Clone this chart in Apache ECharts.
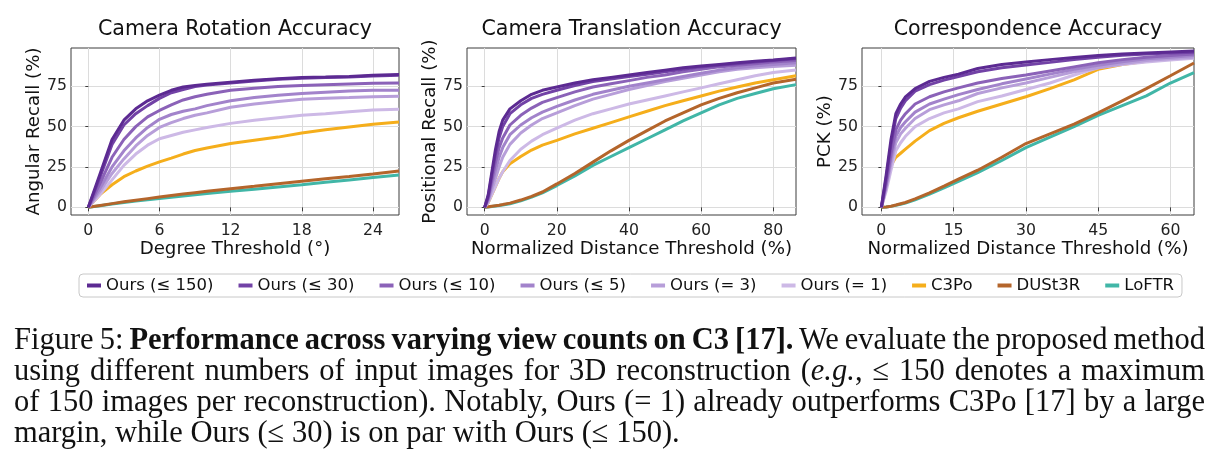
<!DOCTYPE html>
<html><head><meta charset="utf-8">
<script src="https://cdn.jsdelivr.net/npm/echarts@6/dist/echarts.min.js"></script>
<style>
html,body{margin:0;padding:0;background:#fff;}
#wrap{position:relative;width:1219px;height:471px;overflow:hidden;background:#fff;}
#chart{position:absolute;left:0;top:0;width:1219px;height:471px;}
#caption{position:absolute;left:14px;top:324px;width:1191px;font-family:'Liberation Serif','Times New Roman',serif;font-size:30.5px;line-height:31px;color:#111;}
#caption .line{white-space:nowrap;}
</style>
</head><body>
<div id="wrap">
<div id="chart"></div>
<div id="caption">
<div class="line j"><span>Figure 5: <b>Performance across varying view counts on C3 [17].</b> We evaluate the proposed method</span></div>
<div class="line j"><span>using different numbers of input images for 3D reconstruction (<i>e.g.</i>, ≤ 150 denotes a maximum</span></div>
<div class="line j"><span>of 150 images per reconstruction). Notably, Ours (= 1) already outperforms C3Po [17] by a large</span></div>
<div class="line"><span>margin, while Ours (≤ 30) is on par with Ours (≤ 150).</span></div>
</div>
</div>
<script>
// ---------- data ----------
const methodNames = ['Ours (≤ 150)', 'Ours (≤ 30)', 'Ours (≤ 10)', 'Ours (≤ 5)', 'Ours (= 3)', 'Ours (= 1)', 'C3Po', 'DUSt3R', 'LoFTR'];
const panelTitles = ['Camera Rotation Accuracy', 'Camera Translation Accuracy', 'Correspondence Accuracy'];
const xAxisNames = ['Degree Threshold (°)', 'Normalized Distance Threshold (%)', 'Normalized Distance Threshold (%)'];
const yAxisNames = ['Angular Recall (%)', 'Positional Recall (%)', 'PCK (%)'];
const rotXTicks = [0, 6, 12, 18, 24];
const transXTicks = [0, 20, 40, 60, 80];
const corrXTicks = [0, 15, 30, 45, 60];
const yTicks = [0, 25, 50, 75];

// Camera rotation accuracy
const rotX = [0,1,2,3,4,5,6,7,8,9,10,12,14,16,18,20,22,24,26.2];
const rot_ours150 = [0,21,42,54,61,66,69.5,72.5,74.5,75.5,76.3,77.5,78.7,79.7,80.4,80.7,81.1,81.8,82.3];
const rot_ours30 = [0,19,39,51,58,63,67.5,71,73,74.8,75.7,77,78.3,79.3,80,80.4,80.8,81.4,81.8];
const rot_ours10 = [0,15,31,42,50,56,60,63.5,66.5,68.5,70,72.5,73.8,74.8,75.5,76,76.4,76.8,77];
const rot_ours5 = [0,12,25,35,43,49.5,54.5,57.5,59.5,61,63,66,68,69.5,70.5,71.3,72,72.5,72.6];
const rot_ours3 = [0,10,21,30,38,44.5,49.5,52.5,55,57,58.5,62,64,65.5,67,67.6,68,68.5,68.8];
const rot_ours1 = [0,8,17,26,33,38.5,42.5,44.5,46.5,48,49.5,52,54,55.5,57,58,59.2,60.3,60.8];
const rot_c3po = [0,8,14,19,22.5,25.5,28.2,30.5,33,35.2,36.8,39.5,41.5,43.5,46,48,49.8,51.5,52.8];
const rot_dust3r = [0,1.2,2.3,3.4,4.4,5.4,6.4,7.3,8.2,9.1,10,11.5,13,14.6,16.2,17.7,19.1,20.6,22.5];
const rot_loftr = [0,1,2,3,3.9,4.7,5.5,6.3,7,7.8,8.6,9.9,11.2,12.6,14,15.5,17,18.5,20];

// Camera translation accuracy
const transX = [0,1,2,3,4,5,7,10,13,16,20,25,30,35,40,45,50,55,60,65,70,75,80,86.3];
const trans_ours150 = [0,8,22,36,47,54,61,66,70,72.5,74.5,77,79,80.5,82,83.5,85,86.5,87.5,88.5,89.5,90.5,91.3,92.5];
const trans_ours30 = [0,7,20,33,43,50,58,63.5,67.5,70,72.5,75.5,78,79.5,81,82.5,84,85.5,87,88,89,90,91,92];
const trans_ours10 = [0,6,17,28,37,43,51,57,61.5,65,68,71.5,74.5,76.5,78.5,80.5,82,84,85.5,87,88,89,90,91];
const trans_ours5 = [0,5,14,23,31,37,45,51,55.5,59,62.5,66.5,70,72.5,75,77,79,81,83,85,86.5,87.5,88.5,89.5];
const trans_ours3 = [0,4,11,18,25,31,39,46,51,55,58.5,63,67,70,73,75.5,78,80,82,84,85.5,86.5,87.3,88];
const trans_ours1 = [0,3,8,13,18,22,29,36,41,45,49,54,58,61,64,66.5,69,71.5,74,76.5,79,81.5,83.5,85];
const trans_c3po = [0,3,8,13,18,22,27,31.5,35.5,38.5,41.5,45.5,49,52.5,56,59.5,63,66,69,72,74.5,77,79,81.5];
const trans_dust3r = [0,0.3,0.7,1,1.3,1.7,2.6,4.5,6.8,9.5,14.5,21,28,35,41.5,47.5,53.5,58.5,63.5,67.5,71,74,77,79.3];
const trans_loftr = [0,0.2,0.5,0.8,1.1,1.4,2.2,4,6.3,9,13.5,19.5,26,31.5,37,42.5,48,53.5,58.5,63.5,67.5,70.5,73.5,76];

// Correspondence accuracy
const corrX = [0,1,2,3,4,5,7,10,13,16,20,25,30,35,40,45,50,55,60,64.9];
const corr_ours150 = [0,20,42,58,64,68.4,73.6,78,80.5,82.5,86,88.5,90,91.5,92.8,94,95,95.6,96.2,96.8];
const corr_ours30 = [0,18,39,55,61.5,66,72,76,78.8,81,84,86.5,88.2,89.8,91.5,93,94.2,95,95.6,96];
const corr_ours10 = [0,15,33,48,54,58,64,68.5,71.5,74,77,79.8,82,84.5,87,89.5,91.5,93,94,95];
const corr_ours5 = [0,14,30,44,49.5,53,59,64,67,69.8,73,76.5,79.5,82.5,85.5,88,90.2,92,93,94];
const corr_ours3 = [0,12,27,40,45.5,49,55,60.5,63.5,66,70.5,74,77,80.5,84,86.5,89,91,92,93];
const corr_ours1 = [0,10,23,35,40,44,50,55,58.5,61,65.5,69,73,77,82,86.5,88.5,90,91.3,92.3];
const corr_c3po = [0,12,26,31,33.5,36,41,47.5,52,55.5,59.5,64,68.5,73.5,79,85.5,88.5,90.5,92.3,93.5];
const corr_dust3r = [0,0.2,0.7,1.4,2.2,3,5.2,9,13.2,17.5,23,31,39.5,45.5,51.5,58.5,66,73.5,81.5,89.4];
const corr_loftr = [0,0.2,0.6,1.2,1.9,2.6,4.6,8.2,12,16,21.5,29,37,43.5,50,57,63,69,77,83.5];

// ---------- caption justification (text layout only) ----------
const CAPTION_WIDTH = 1191;
document.querySelectorAll('#caption .j').forEach(el => {
  const span = el.firstElementChild;
  const w = span.getBoundingClientRect().width;
  const spaces = (span.textContent.match(/ /g) || []).length;
  if (spaces) el.style.wordSpacing = ((CAPTION_WIDTH - w) / spaces) + 'px';
});

// ---------- styling / layout ----------
const colors = ['#5c2a92', '#7242a6', '#8b62b8', '#a283cb', '#b79ed9', '#cdb9e6', '#f5ae1b', '#b4652b', '#41b6a7'];
const FONT = 'DejaVu Sans';
const panels = [
  {x: rotX, ys: [rot_ours150, rot_ours30, rot_ours10, rot_ours5, rot_ours3, rot_ours1, rot_c3po, rot_dust3r, rot_loftr], ticks: rotXTicks, min: -1.46, max: 26.2, grid: {left: 71, top: 48, width: 328, height: 167}, nameGap: 22},
  {x: transX, ys: [trans_ours150, trans_ours30, trans_ours10, trans_ours5, trans_ours3, trans_ours1, trans_c3po, trans_dust3r, trans_loftr], ticks: transXTicks, min: -4.9, max: 86.3, grid: {left: 467, top: 48, width: 329, height: 167}, nameGap: 27},
  {x: corrX, ys: [corr_ours150, corr_ours30, corr_ours10, corr_ours5, corr_ours3, corr_ours1, corr_c3po, corr_dust3r, corr_loftr], ticks: corrXTicks, min: -4.02, max: 64.9, grid: {left: 862, top: 48, width: 332, height: 167}, nameGap: 23}
];
const axisColor = '#3c3c3c';
const gridLineColor = '#dcdcdc';

const grids = [], xAxes = [], yAxes = [], series = [], titles = [];
panels.forEach((p, i) => {
  grids.push(Object.assign({show: true, borderColor: axisColor, borderWidth: 1, backgroundColor: 'transparent', outerBoundsMode: 'none'}, p.grid));
  titles.push({text: panelTitles[i], left: p.grid.left + p.grid.width / 2, top: 30, textAlign: 'center', textVerticalAlign: 'middle', padding: 0,
    textStyle: {fontFamily: FONT, fontSize: 20.6, fontWeight: 'normal', color: '#111'}});
  xAxes.push({type: 'value', gridIndex: i, min: p.min, max: p.max,
    name: xAxisNames[i], nameLocation: 'middle', nameGap: 24,
    nameTextStyle: {fontFamily: FONT, fontSize: 18.2, color: '#111'},
    axisLine: {show: false},
    axisTick: {show: true, length: 4, customValues: p.ticks, lineStyle: {color: axisColor, width: 1}},
    axisLabel: {customValues: p.ticks, margin: 8, fontFamily: FONT, fontSize: 15.7, color: '#222'},
    splitLine: {show: true, lineStyle: {color: gridLineColor, width: 1}}
  });
  yAxes.push({type: 'value', gridIndex: i, min: -4.75, max: 98.7,
    name: yAxisNames[i], nameLocation: 'middle', nameGap: p.nameGap, nameRotate: 90,
    nameTextStyle: {fontFamily: FONT, fontSize: 18.2, color: '#111'},
    axisLine: {show: false},
    axisTick: {show: true, length: 3, customValues: yTicks, lineStyle: {color: axisColor, width: 1}},
    axisLabel: {customValues: yTicks, margin: 4, fontFamily: FONT, fontSize: 15.7, color: '#222'},
    splitLine: {show: true, lineStyle: {color: gridLineColor, width: 1}}
  });
  // draw in reverse order so that darker "Ours" lines are on top
  for (let k = methodNames.length - 1; k >= 0; k--) {
    series.push({type: 'line', name: methodNames[k], xAxisIndex: i, yAxisIndex: i,
      data: p.x.map((xv, j) => [xv, p.ys[k][j]]),
      showSymbol: false, symbol: 'none', smooth: false, clip: true,
      lineStyle: {width: 3, color: colors[k]}, itemStyle: {color: colors[k]},
      emphasis: {disabled: true}, silent: true});
  }
});

const chart = echarts.init(document.getElementById('chart'), null, {renderer: 'canvas'});
chart.setOption({
  animation: false,
  backgroundColor: 'transparent',
  title: titles,
  grid: grids,
  xAxis: xAxes,
  yAxis: yAxes,
  legend: {data: methodNames.map((n, k) => ({name: n, icon: 'rect', itemStyle: {color: colors[k]}})),
    left: 79, top: 274, orient: 'horizontal', itemWidth: 14, itemHeight: 4, itemGap: 25,
    padding: [3, 8], borderColor: '#c8c8c8', borderWidth: 1, borderRadius: 4,
    selectedMode: false,
    textStyle: {fontFamily: FONT, fontSize: 16.5, color: '#111'}},
  series: series
});
</script>
</body></html>
